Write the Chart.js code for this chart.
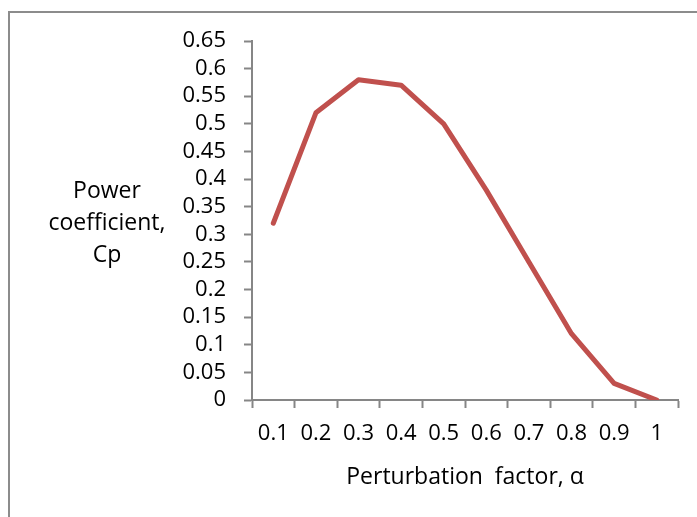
<!DOCTYPE html>
<html>
<head>
<meta charset="utf-8">
<script src="https://cdn.jsdelivr.net/npm/chart.js@4.4.0/dist/chart.umd.min.js"></script>
<style>
  html, body { margin: 0; padding: 0; background: #fff; }
  #wrap { position: relative; width: 697px; height: 517px; overflow: hidden; }
  #frame { position: absolute; left: 8px; top: 11px; width: 700px; height: 520px;
           border: 2px solid #8c8c8c; box-sizing: border-box; }
  canvas { position: absolute; left: 0; top: 0; }
</style>
</head>
<body>
<div id="wrap">
  <div id="frame"></div>
  <canvas id="cpChart" width="697" height="517"></canvas>
</div>
<script>
  // perturbation factor categories and power coefficient values
  const alphaLabels = ["0.1", "0.2", "0.3", "0.4", "0.5", "0.6", "0.7", "0.8", "0.9", "1"];
  const cpValues = [0.32, 0.52, 0.58, 0.57, 0.50, 0.38, 0.25, 0.12, 0.03, 0.0];
  const yTitleLines = ["Power", "coefficient,", "Cp"];
  const xTitle = "Perturbation  factor, \u03b1";

  const FONT = "'Open Sans', 'Liberation Sans', sans-serif";
  const FONT_SIZE = 22;
  const axisColor = "#868686";

  // draws the axis titles where Excel put them
  const titlesPlugin = {
    id: "titles",
    afterDraw(chart) {
      const ctx = chart.ctx;
      ctx.save();
      ctx.fillStyle = "#000";
      ctx.font = "23px " + FONT;
      ctx.textAlign = "center";
      ctx.textBaseline = "middle";
      yTitleLines.forEach((line, i) => {
        ctx.fillText(line, 107, 191 + i * 32);
      });
      ctx.fillText(xTitle, 465, 477);
      ctx.restore();
    }
  };

  const ctx = document.getElementById("cpChart").getContext("2d");
  new Chart(ctx, {
    type: "line",
    data: {
      labels: alphaLabels,
      datasets: [{
        data: cpValues,
        borderColor: "#C0504D",
        borderWidth: 5,
        pointRadius: 0,
        tension: 0,
        borderCapStyle: "round",
        borderJoinStyle: "round"
      }]
    },
    plugins: [titlesPlugin],
    options: {
      responsive: false,
      animation: false,
      layout: { padding: { left: 0, top: 41, right: 19, bottom: 0 } },
      plugins: { legend: { display: false }, tooltip: { enabled: false } },
      scales: {
        x: {
          type: "category",
          offset: true,
          afterFit(scale) { scale.height = 117; },
          grid: {
            offset: true,
            drawOnChartArea: false,
            drawTicks: true,
            tickLength: 8,
            tickColor: axisColor,
            tickWidth: 2
          },
          border: { color: axisColor, width: 2 },
          ticks: {
            color: "#000",
            padding: 13,
            maxRotation: 0,
            autoSkip: false,
            font: { family: FONT, size: FONT_SIZE }
          }
        },
        y: {
          min: 0,
          max: 0.65,
          afterFit(scale) { scale.width = 252; },
          grid: {
            drawOnChartArea: false,
            drawTicks: true,
            tickLength: 8,
            tickColor: axisColor,
            tickWidth: 2
          },
          border: { color: axisColor, width: 2 },
          ticks: {
            stepSize: 0.05,
            autoSkip: false,
            color: "#000",
            padding: 18,
            font: { family: FONT, size: FONT_SIZE },
            callback: (v) => String(Number(v.toFixed(2)))
          }
        }
      }
    }
  });
</script>
</body>
</html>
